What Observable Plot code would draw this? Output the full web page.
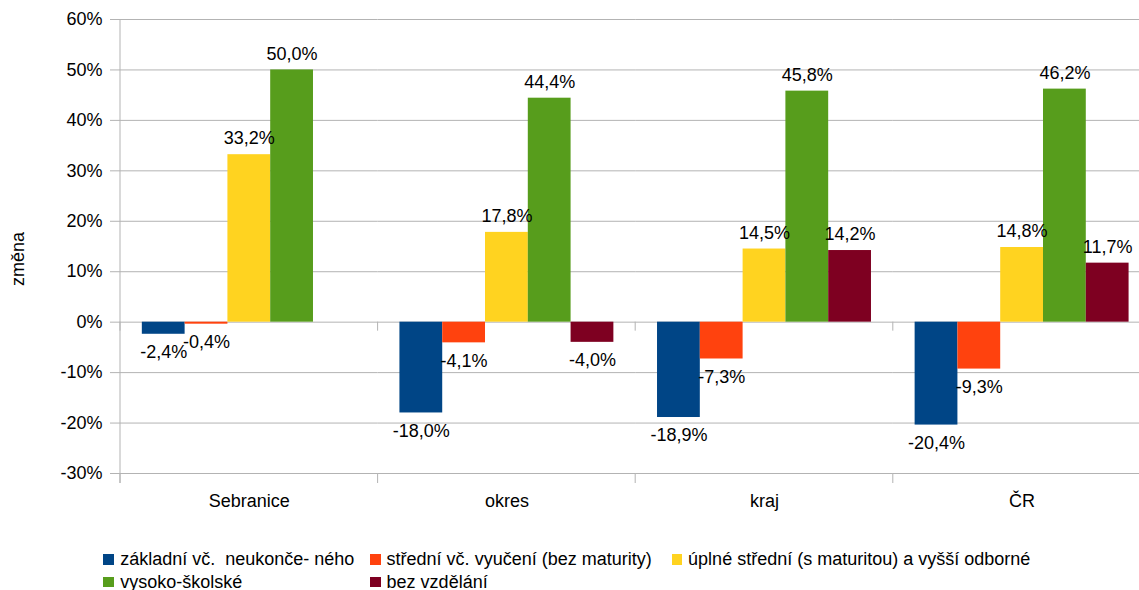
<!DOCTYPE html>
<html>
<head>
<meta charset="utf-8">
<script src="https://cdn.jsdelivr.net/npm/d3@7"></script>
<script src="https://cdn.jsdelivr.net/npm/@observablehq/plot@0.6"></script>
<style>
  html, body { margin: 0; padding: 0; background: white; overflow: hidden; }
  #wrap { position: relative; width: 1139px; height: 590px; overflow: hidden; font-family: "Liberation Sans", Arial, sans-serif; }
  #chart { width: 1151px; }
  #chart svg { max-width: none !important; }
  #ytitle { position: absolute; left: 17.5px; top: 259px; transform: translate(-50%, -50%) rotate(-90deg); font-size: 18px; white-space: nowrap; color: #000; }
  .lg { position: absolute; display: flex; align-items: center; height: 20px; font-size: 18px; white-space: pre; color: #000; }
  .sw { width: 10.6px; height: 10.6px; flex: none; }
</style>
</head>
<body>
<div id="wrap">
  <div id="chart"></div>
  <div id="ytitle">změna</div>
  <div id="legend"></div>
</div>
<script>
const groups = ["Sebranice", "okres", "kraj", "ČR"];
const series = [
  "základní vč.  neukonče- ného",
  "střední vč. vyučení (bez maturity)",
  "úplné střední (s maturitou) a vyšší odborné",
  "vysoko-školské",
  "bez vzdělání"
];
const sebraniceValues = [-2.4, -0.4, 33.2, 50.0, null];
const okresValues = [-18.0, -4.1, 17.8, 44.4, -4.0];
const krajValues = [-18.9, -7.3, 14.5, 45.8, 14.2];
const crValues = [-20.4, -9.3, 14.8, 46.2, 11.7];
const colors = ["#004586", "#ff420e", "#ffd320", "#579d1c", "#7e0021"];
const yTicks = [-30, -20, -10, 0, 10, 20, 30, 40, 50, 60];

const valuesByGroup = [sebraniceValues, okresValues, krajValues, crValues];
const data = [];
groups.forEach((g, gi) => {
  series.forEach((s, si) => {
    const v = valuesByGroup[gi][si];
    if (v !== null) data.push({group: g, series: s, value: v, label: v.toFixed(1).replace(".", ",") + "%"});
  });
});

const grid = "#b3b3b3";
const plot = Plot.plot({
  width: 1151,
  height: 525,
  marginLeft: 120,
  marginRight: 0.6,
  marginTop: 19,
  marginBottom: 52,
  style: {fontFamily: "'Liberation Sans', Arial, sans-serif", fontSize: "18px", color: "#000", background: "white", maxWidth: "none"},
  fx: {domain: groups, padding: 0, round: false, label: null},
  x: {domain: series, paddingInner: 0, paddingOuter: 0.51, round: false, axis: null},
  y: {domain: [-30, 60], label: null},
  color: {domain: series, range: colors},
  marks: [
    Plot.ruleY(yTicks, {stroke: grid, strokeWidth: 1}),
    Plot.axisY(yTicks, {tickSize: 10, tickPadding: 8, tickFormat: d => d + "%", stroke: grid, fill: "#000", label: null}),
    Plot.axisFx({anchor: "bottom", tickSize: 0, tickPadding: 21, label: null, fill: "#000"}),
    Plot.barY(data, {fx: "group", x: "series", y: "value", fill: "series"}),
    Plot.text(data.filter(d => d.value >= 0), {fx: "group", x: "series", y: "value", text: "label", dy: -16, fill: "#000"}),
    Plot.text(data.filter(d => d.value < 0), {fx: "group", x: "series", y: "value", text: "label", dy: 18, fill: "#000"})
  ]
});
plot.style.maxWidth = "none";
document.getElementById("chart").appendChild(plot);

// boundary ticks and left axis line, positioned through the plot's own scales
const fx = plot.scale("fx");
const ys = plot.scale("y");
const bw = fx.bandwidth;
const edges = groups.map(g => fx.apply(g)).concat([fx.apply(groups[groups.length - 1]) + bw]);
const svg = d3.select(plot.tagName.toLowerCase() === "svg" ? plot : plot.querySelector("svg"));
const g = svg.append("g").attr("stroke", grid).attr("stroke-width", 1);
const y0 = ys.apply(0), yb = ys.apply(-30), yt = ys.apply(60);
edges.forEach(x => {
  g.append("line").attr("x1", x).attr("x2", x).attr("y1", y0).attr("y2", y0 + 9);
  g.append("line").attr("x1", x).attr("x2", x).attr("y1", yb).attr("y2", yb + 10);
});
g.append("line").attr("x1", edges[0]).attr("x2", edges[0]).attr("y1", yt).attr("y2", yb + 10);

// legend
const legendPos = [
  {sw: 103, gap: 6.6, cy: 559.3},
  {sw: 370, gap: 6, cy: 559.3},
  {sw: 671.5, gap: 6, cy: 559.3},
  {sw: 103, gap: 6.6, cy: 582},
  {sw: 370, gap: 6, cy: 582}
];
const legend = document.getElementById("legend");
series.forEach((s, i) => {
  const p = legendPos[i];
  const item = document.createElement("div");
  item.className = "lg";
  item.style.left = p.sw + "px";
  item.style.top = (p.cy - 10) + "px";
  item.style.gap = p.gap + "px";
  const sw = document.createElement("span");
  sw.className = "sw";
  sw.style.background = colors[i];
  const t = document.createElement("span");
  t.textContent = s;
  item.appendChild(sw);
  item.appendChild(t);
  legend.appendChild(item);
});
</script>
</body>
</html>
